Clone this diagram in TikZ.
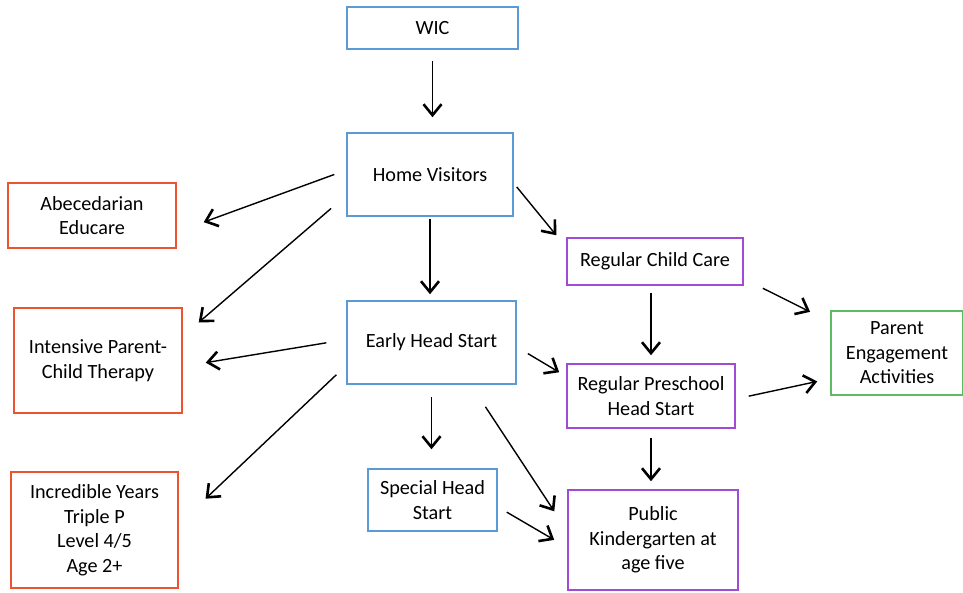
\documentclass[tikz,border=0pt]{standalone}
\usepackage{fontspec}
\setmainfont{Carlito}
\usetikzlibrary{arrows.meta}

\definecolor{boxblue}{HTML}{5B9BD5}
\definecolor{boxred}{HTML}{EE5330}
\definecolor{boxpurple}{HTML}{A04AD6}
\definecolor{boxgreen}{HTML}{5DBB63}

\tikzset{
	box/.style={draw, line width=1.5pt, align=center, inner sep=0pt,
		font=\fontsize{20.2}{24.5}\selectfont},
	bluebox/.style={box, draw=boxblue},
	redbox/.style={box, draw=boxred},
	purplebox/.style={box, draw=boxpurple},
	greenbox/.style={box, draw=boxgreen},
	flow/.style={line width=1.4pt, -{Straight Barb[length=11pt,width=18pt,line width=2.6pt]}}
}

\begin{document}
\begin{tikzpicture}[x=1pt,y=-1pt]
	\useasboundingbox (0,0) rectangle (963,592);
	% middle column
	\node[bluebox, minimum width=171pt, minimum height=42pt] (wic) at (432.5,28) {WIC};
	\node[bluebox, minimum width=166pt, minimum height=83pt] (hv) at (430,174.5) {Home Visitors};
	\node[bluebox, minimum width=169pt, minimum height=83pt] (ehs) at (431.5,342.5) {Early Head Start};
	\node[bluebox, minimum width=129pt, minimum height=62pt] (shs) at (432.5,500) {Special Head\\Start};
	% left column
	\node[redbox, minimum width=168pt, minimum height=65pt] (abc) at (92,215.5) {Abecedarian\\Educare};
	\node[redbox, minimum width=168pt, minimum height=105pt] (ipt) at (98,360.5) {Intensive Parent-\\Child Therapy};
	\node[redbox, minimum width=167pt, minimum height=116pt] (iy) at (94.5,530) {Incredible Years\\Triple P\\Level 4/5\\Age 2+};
	% right columns
	\node[purplebox, minimum width=176pt, minimum height=47pt] (rcc) at (655,261.5) {Regular Child Care};
	\node[purplebox, minimum width=168pt, minimum height=64pt] (rphs) at (651,396) {Regular Preschool\\Head Start};
	\node[purplebox, minimum width=170pt, minimum height=100pt] (pk) at (653,540) {Public\\Kindergarten at\\age five};
	\node[greenbox, minimum width=132pt, minimum height=84pt] (pea) at (897,353) {Parent\\Engagement\\Activities};

	% arrows
	\draw[flow, shorten <=11pt, shorten >=15pt] (wic.south) -- (wic.south |- hv.north);
	\draw[flow, shorten <=12.7pt, shorten >=28.7pt] (hv.177.4) -- (abc.349.1);
	\draw[flow, shorten <=20pt, shorten >=21pt] (hv.194) -- (ipt.16);
	\draw[flow, shorten <=2pt, shorten >=6pt] (hv.south) -- (hv.south |- ehs.north);
	\draw[flow, shorten <=4.7pt, shorten >=15.8pt] (hv.354.6) -- (rcc.171.4);
	\draw[flow, shorten <=20.2pt, shorten >=23.3pt] (ehs.178.2) -- (ipt.356.5);
	\draw[flow, shorten <=13.7pt, shorten >=36.9pt] (ehs.195.4) -- (iy.4.7);
	\draw[flow, shorten <=12pt, shorten >=19pt] (ehs.south) -- (ehs.south |- shs.north);
	\draw[flow, shorten <=12.9pt, shorten >=8.2pt] (ehs.357.4) -- (rphs.167.4);
	\draw[flow, shorten <=26.4pt, shorten >=23.6pt] (ehs.313.2) -- (pk.174.4);
	\draw[flow, shorten <=7pt, shorten >=8pt] (rphs.north |- rcc.south) -- (rphs.north);
	\draw[flow, shorten <=21.3pt, shorten >=22.5pt] (rcc.349.2) -- (pea.155.7);
	\draw[flow, shorten <=13.3pt, shorten >=13.3pt] (rphs.358.9) -- (pea.201);
	\draw[flow, shorten <=9pt, shorten >=8pt] (rphs.south) -- (rphs.south |- pk.north);
	\draw[flow, shorten <=10.4pt, shorten >=15.1pt] (shs.354.1) -- (pk.185.8);
\end{tikzpicture}
\end{document}
